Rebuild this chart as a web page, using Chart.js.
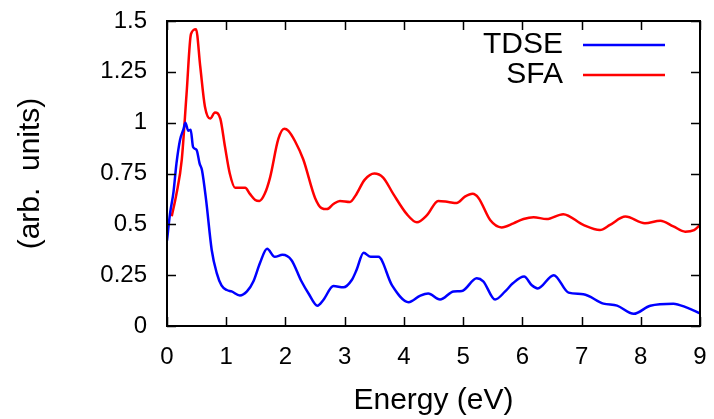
<!DOCTYPE html>
<html>
<head>
<meta charset="utf-8">
<title>TDSE vs SFA</title>
<script src="https://cdn.jsdelivr.net/npm/chart.js@4.4.0/dist/chart.umd.min.js"></script>
<style>
	html, body { margin: 0; padding: 0; background: #fff; }
	canvas { display: block; }
</style>
</head>
<body>
<canvas id="myChart" width="714" height="419"></canvas>
<script>
"use strict";

/********/
/* data */
/********/
const tdseEnergy = [0, 0.05, 0.11, 0.16, 0.22, 0.28, 0.31, 0.36, 0.4, 0.44, 0.5, 0.55, 0.59, 0.66,
	0.755, 0.84, 0.92, 1.01, 1.09, 1.23, 1.35, 1.46, 1.57, 1.69, 1.82, 1.95, 2.1, 2.27, 2.39, 2.54,
	2.64, 2.81, 2.98, 3.12, 3.2, 3.32, 3.44, 3.57, 3.8, 4.08, 4.27, 4.41, 4.61, 4.84, 4.98, 5.23,
	5.34, 5.54, 5.71, 5.84, 6.03, 6.16, 6.26, 6.53, 6.78, 7.03, 7.37, 7.6, 7.88, 8.16, 8.55, 8.78, 9];
const tdseSignal = [0.42, 0.55, 0.66, 0.8, 0.915, 0.97, 1.0, 0.96, 0.965, 0.88, 0.866, 0.8, 0.767, 0.62,
	0.374, 0.26, 0.2, 0.177, 0.17, 0.15, 0.17, 0.22, 0.31, 0.38, 0.34, 0.35, 0.325, 0.22, 0.16, 0.1,
	0.128, 0.197, 0.19, 0.226, 0.275, 0.36, 0.34, 0.34, 0.2, 0.117, 0.148, 0.16, 0.13, 0.17, 0.172, 0.235,
	0.22, 0.13, 0.17, 0.21, 0.243, 0.2, 0.185, 0.25, 0.164, 0.156, 0.11, 0.1, 0.06, 0.1, 0.11, 0.09, 0.062];

const sfaEnergy = [0.08, 0.16, 0.25, 0.33, 0.405, 0.49, 0.56, 0.64, 0.73, 0.81, 0.9, 0.98, 1.06, 1.15,
	1.32, 1.4, 1.49, 1.56, 1.65, 1.74, 1.88, 1.98, 2.05, 2.16, 2.3, 2.5, 2.61, 2.7, 2.81, 2.92, 3.09,
	3.18, 3.34, 3.5, 3.65, 3.82, 4.05, 4.22, 4.39, 4.58, 4.75, 4.89, 5.03, 5.16, 5.26, 5.46, 5.65,
	5.85, 6.02, 6.19, 6.41, 6.69, 7.03, 7.31, 7.48, 7.74, 8.07, 8.33, 8.55, 8.75, 8.9, 9];
const sfaSignal = [0.54, 0.65, 0.82, 1.14, 1.436, 1.46, 1.28, 1.08, 1.02, 1.05, 1.02, 0.88, 0.75, 0.68,
	0.68, 0.65, 0.62, 0.615, 0.65, 0.73, 0.92, 0.97, 0.96, 0.91, 0.82, 0.63, 0.58, 0.575, 0.6, 0.615, 0.61,
	0.64, 0.72, 0.75, 0.73, 0.65, 0.55, 0.51, 0.545, 0.615, 0.61, 0.605, 0.636, 0.65, 0.63, 0.52, 0.485,
	0.505, 0.526, 0.535, 0.526, 0.55, 0.497, 0.472, 0.497, 0.538, 0.505, 0.518, 0.49, 0.464, 0.472, 0.497];

const seriesNames = ["TDSE", "SFA"];
const seriesColors = ["#0000ff", "#ff0000"];

const xTicks = [0, 1, 2, 3, 4, 5, 6, 7, 8, 9];
const yTicks = [0, 0.25, 0.5, 0.75, 1, 1.25, 1.5];

/***********/
/* globals */
/***********/
const FONT = "'Liberation Sans', Arial, sans-serif";
const TICK_SIZE = 24;
const LABEL_SIZE = 30;
const TICK_LEN = 9;

/***********/
/* methods */
/***********/
function toPoints(xs, ys) {
	// zip the energy and signal arrays into {x, y} points
	return xs.map((x, i) => ({ x: x, y: ys[i] }));
}

function fixAxisSize(size) {
	// pin the axis thickness and drop the label overhang padding,
	// so the layout padding alone decides where the plot box sits
	return scale => {
		if (scale.isHorizontal()) {
			scale.height = size;
		} else {
			scale.width = size;
		}
		scale.paddingTop = scale.paddingBottom = 0;
		scale.paddingLeft = scale.paddingRight = 0;
	};
}

// gnuplot style frame: border plus inward tick marks on all four sides
const framePlugin = {
	id: "frame",
	afterDraw(chart) {
		const ctx = chart.ctx;
		const area = chart.chartArea;
		const xs = chart.scales.x;
		const ys = chart.scales.y;
		ctx.save();
		ctx.strokeStyle = "#000";
		ctx.lineWidth = 1.5;
		ctx.beginPath();
		xTicks.forEach(v => {
			const px = Math.round(xs.getPixelForValue(v)) + 0.5;
			ctx.moveTo(px, area.bottom);
			ctx.lineTo(px, area.bottom - TICK_LEN);
			ctx.moveTo(px, area.top);
			ctx.lineTo(px, area.top + TICK_LEN);
		});
		yTicks.forEach(v => {
			const py = Math.round(ys.getPixelForValue(v)) + 0.5;
			ctx.moveTo(area.left, py);
			ctx.lineTo(area.left + TICK_LEN, py);
			ctx.moveTo(area.right, py);
			ctx.lineTo(area.right - TICK_LEN, py);
		});
		ctx.stroke();
		ctx.lineWidth = 2;
		ctx.strokeRect(area.left, area.top, area.right - area.left, area.bottom - area.top);
		ctx.restore();
	}
};

// legend in the top right corner: text first, line sample after it
const keyPlugin = {
	id: "key",
	afterDraw(chart) {
		const ctx = chart.ctx;
		ctx.save();
		ctx.font = LABEL_SIZE + "px " + FONT;
		ctx.textAlign = "right";
		ctx.textBaseline = "middle";
		chart.data.datasets.forEach((ds, i) => {
			const y = 45 + i * 30;
			ctx.fillStyle = "#000";
			ctx.fillText(ds.label, 563, y);
			ctx.strokeStyle = ds.borderColor;
			ctx.lineWidth = 2.5;
			ctx.beginPath();
			ctx.moveTo(583, y);
			ctx.lineTo(665, y);
			ctx.stroke();
		});
		ctx.restore();
	}
};

function buildChart() {
	const ctx = document.getElementById("myChart").getContext("2d");
	const tickFont = { family: FONT, size: TICK_SIZE };
	const labelFont = { family: FONT, size: LABEL_SIZE };
	return new Chart(ctx, {
		type: "line",
		data: {
			datasets: [{
				label: seriesNames[0],
				data: toPoints(tdseEnergy, tdseSignal),
				borderColor: seriesColors[0],
				borderWidth: 2.5,
				pointRadius: 0,
				cubicInterpolationMode: "monotone",
				fill: false
			}, {
				label: seriesNames[1],
				data: toPoints(sfaEnergy, sfaSignal),
				borderColor: seriesColors[1],
				borderWidth: 2.5,
				pointRadius: 0,
				cubicInterpolationMode: "monotone",
				fill: false
			}]
		},
		options: {
			responsive: false,
			animation: false,
			layout: { padding: { left: 0, right: 14, top: 21, bottom: 0 } },
			plugins: {
				legend: { display: false },
				tooltip: { enabled: false }
			},
			scales: {
				x: {
					type: "linear",
					min: 0,
					max: 9,
					afterBuildTicks: scale => { scale.ticks = xTicks.map(v => ({ value: v })); },
					afterFit: fixAxisSize(93),
					grid: { display: false, drawTicks: false },
					border: { display: false },
					ticks: {
						color: "#000",
						font: tickFont,
						padding: 17,
						maxRotation: 0,
						callback: v => String(v)
					},
					title: {
						display: true,
						text: "Energy (eV)",
						color: "#000",
						font: labelFont,
						padding: { top: 0, bottom: 0 }
					}
				},
				y: {
					type: "linear",
					min: 0,
					max: 1.5,
					afterBuildTicks: scale => { scale.ticks = yTicks.map(v => ({ value: v })); },
					afterFit: fixAxisSize(167),
					grid: { display: false, drawTicks: false },
					border: { display: false },
					ticks: {
						color: "#000",
						font: tickFont,
						padding: 20,
						callback: v => String(v)
					},
					title: {
						display: true,
						text: "(arb.  units)",
						color: "#000",
						font: labelFont,
						padding: { top: 13, bottom: 0 }
					}
				}
			}
		},
		plugins: [framePlugin, keyPlugin]
	});
}

/********/
/* MAIN */
/********/
(function main() {
	buildChart();
})();
</script>
</body>
</html>
